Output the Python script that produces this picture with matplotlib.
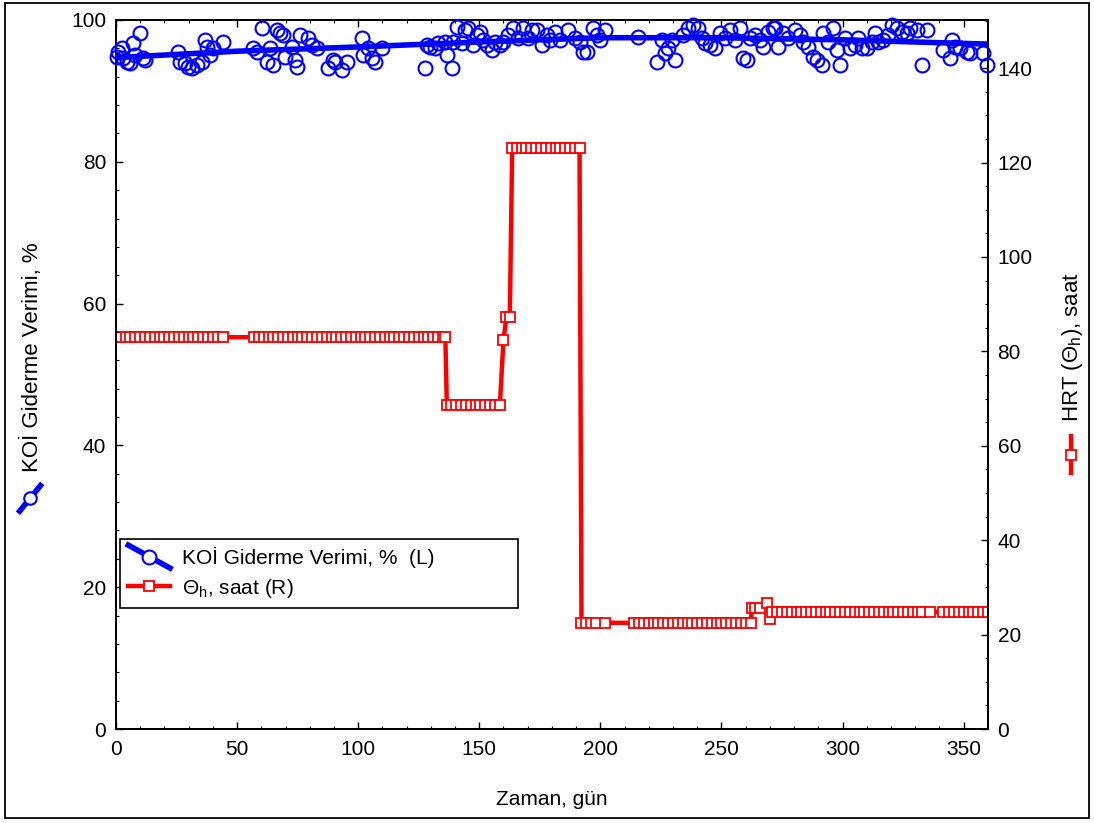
import matplotlib
matplotlib.use("Agg")
import matplotlib.pyplot as plt
from matplotlib.ticker import MultipleLocator
from matplotlib.lines import Line2D
from matplotlib.patches import Rectangle
from matplotlib.legend_handler import HandlerBase

plt.rcParams['font.family'] = ['Liberation Sans', 'DejaVu Sans']

# --- COD removal efficiency (left axis, %) ---
koi_day = [0.5, 1.0, 2.5, 2.9, 4.5, 5.8, 7.0, 7.8, 9.9, 11.2, 12.0,
           25.6, 26.4, 28.5, 29.7, 31.3, 33.4, 35.5, 36.7, 37.5, 38.8, 40.0, 44.2,
           56.6, 58.2, 60.3, 62.3, 63.6, 64.8, 66.5, 67.7, 69.0, 69.8, 72.7, 73.9,
           74.7, 76.0, 79.3, 80.9, 83.0, 87.5, 89.6,
           90.4, 93.3, 95.4, 101.6, 102.0, 104.0, 105.7, 106.9, 109.8,
           127.6, 128.4, 129.6, 131.7, 132.9, 135.8, 136.7, 138.7, 139.1, 140.8,
           142.9, 144.1, 145.3, 147.4, 149.0, 150.3, 151.5, 153.2, 155.2, 156.5,
           158.5, 159.8, 161.9, 163.9, 166.0, 168.0, 170.1, 171.8, 173.8, 175.9,
           178.0, 179.2,
           181.3, 183.3, 186.6, 189.5, 191.6, 192.8, 194.5, 197.0, 198.6, 199.8,
           201.9, 215.5, 223.4, 225.4, 226.7, 227.9, 229.6, 230.8, 234.1, 236.2,
           238.2, 240.3, 242.0, 243.2, 245.3, 247.3, 249.4, 251.4, 253.5, 255.6,
           257.6, 258.9, 260.5, 261.8, 263.8, 265.9, 267.1, 269.2, 271.3,
           272.1, 273.3, 275.4, 277.5, 280.3, 282.4, 283.6, 285.7, 287.8, 289.4,
           291.5, 291.9, 294.0, 296.0, 297.7, 298.9, 301.0, 303.1, 305.1, 306.4,
           308.0, 310.1, 312.1, 313.4, 314.6, 316.7, 318.8, 320.4, 322.5, 324.5,
           326.6, 327.8, 330.7, 332.8, 334.8, 341.5, 344.3, 345.2, 346.4, 348.5,
           351.4, 352.6, 358.0, 359.6]
koi_val = [94.8, 95.5, 96.0, 94.6, 94.1, 93.9, 96.8, 95.1, 98.2, 94.6, 94.4,
           95.5, 94.1, 93.9, 93.4, 93.2, 93.7, 94.1, 97.2, 96.2, 95.1, 96.0, 96.9,
           96.0, 95.5, 98.9, 94.1, 96.0, 93.7, 98.6, 98.2, 97.9, 94.8, 96.2, 94.4,
           93.4, 97.9, 97.5, 96.5, 96.0, 93.2, 94.4,
           94.1, 92.9, 94.1, 97.5, 95.1, 96.0, 94.6, 94.1, 96.0,
           93.2, 96.5, 96.2, 96.0, 96.8, 96.9, 95.1, 93.2, 96.9, 99.0,
           96.8, 98.6, 98.9, 96.5, 97.9, 98.3, 97.2, 96.5, 95.8, 96.9,
           96.5, 96.9, 97.9, 98.9, 97.5, 98.9, 97.5, 98.6, 98.6, 96.5,
           97.9, 97.2,
           98.3, 97.2, 98.6, 97.5, 96.9, 95.5, 95.5, 98.9, 97.9, 97.2,
           98.6, 97.6, 94.1, 97.2, 95.3, 96.0, 97.2, 94.4, 97.9, 98.9,
           99.3, 98.9, 97.5, 96.8, 96.5, 96.0, 98.2, 97.5, 98.6, 97.2,
           98.9, 94.6, 94.4, 97.5, 97.9, 97.2, 96.2, 98.3, 98.9,
           98.9, 96.2, 98.2, 97.5, 98.6, 97.9, 96.9, 96.2, 94.8, 94.4,
           93.7, 98.2, 96.9, 98.9, 95.8, 93.7, 97.5, 96.0, 96.5, 97.5,
           96.0, 96.0, 96.9, 98.2, 96.9, 97.2, 97.9, 99.3, 98.9, 98.3,
           98.2, 98.9, 98.6, 93.7, 98.6, 95.8, 94.6, 97.2, 96.2, 96.0,
           95.5, 95.3, 95.3, 93.7]

# fitted trend of COD removal
fit_day = [0, 50, 100, 150, 200, 250, 300, 360]
fit_val = [94.7, 95.6, 96.2, 96.9, 97.5, 97.5, 97.2, 96.6]

# --- Hydraulic retention time (right axis, hours) ---
hrt_day = [0, 2, 4, 6, 8, 10, 12, 14, 16, 18, 20, 22, 24, 26, 28, 30, 32, 34, 36,
           38, 40, 42, 44,
           57, 59, 61, 63, 65, 67, 69, 71, 73, 75, 77, 79, 81, 83, 85, 87, 89, 91,
           93, 95, 97, 99, 101, 103, 105, 107, 109, 111, 113, 115, 117, 119, 121,
           123, 125, 127, 129, 131, 133, 135, 136,
           136.6, 138.5, 140.5, 142.5, 144.5, 146.5, 148.5, 150.5, 152.5, 154.5,
           156.5, 158.5,
           160, 161.2, 162.6,
           163.6, 165.5, 167.5, 169.5, 171.5, 173.5, 175.5, 177.5, 179.5, 181.5,
           183.5, 185.5, 187.5, 189.5, 191.4,
           192.2, 194, 196, 198, 202,
           214, 216, 218, 220, 222, 224, 226, 228, 230, 232, 234, 236, 238, 240,
           242, 244, 246, 248, 250, 252, 254, 256, 258, 260, 262,
           262.6, 264, 265.8, 268.8, 270.2,
           271, 273, 275, 277, 279, 281, 283, 285, 287, 289, 291, 293, 295, 297,
           299, 301, 303, 305, 307, 309, 311, 313, 315, 317, 319, 321, 323, 325,
           327, 329, 331, 333, 336,
           341.5, 344, 346, 348, 350, 352, 354, 356, 358, 360]
hrt_val = [83.0] * 23 + [83.0] * 41 + [68.6] * 12 + [82.4, 87.3, 87.3] + \
          [123.0] * 15 + [22.5] * 5 + [22.5] * 25 + \
          [25.6, 25.6, 25.6, 26.7, 23.3] + [24.8] * 33 + [24.8] * 10

x_ticks = [0, 50, 100, 150, 200, 250, 300, 350]
left_ticks = [0, 20, 40, 60, 80, 100]
right_ticks = [0, 20, 40, 60, 80, 100, 120, 140]

blue = '#0000FF'
red = '#FF0000'
FS = 15

fig = plt.figure(figsize=(10.94, 8.23), dpi=100)
ax = fig.add_axes([0.106, 0.1142, 0.797, 0.8615])
ax2 = ax.twinx()

# red HRT series on right axis (drawn behind)
ax2.plot(hrt_day, hrt_val, color=red, lw=3.2, marker='s', ms=7.8,
         mfc='white', mec=red, mew=1.3, zorder=2)

ax.set_zorder(ax2.get_zorder() + 1)
ax.patch.set_visible(False)

ax.plot(koi_day, koi_val, ls='none', marker='o', ms=10, mfc='none',
        mec=blue, mew=1.5, zorder=3, clip_on=False)
ax.plot(fit_day, fit_val, color=blue, lw=4, zorder=4, solid_capstyle='butt')

ax.set_xlim(0, 360)
ax.set_ylim(0, 100)
ax2.set_ylim(0, 150.2)

ax.set_xticks(x_ticks)
ax.set_yticks(left_ticks)
ax2.set_yticks(right_ticks)
ax.xaxis.set_minor_locator(MultipleLocator(10))
ax.yaxis.set_minor_locator(MultipleLocator(4))
ax2.yaxis.set_minor_locator(MultipleLocator(5))

ax.tick_params(axis='x', which='both', direction='in', top=True, bottom=True,
               labelsize=FS, pad=8)
ax.tick_params(axis='y', which='both', direction='in', labelsize=FS, pad=7)
ax2.tick_params(axis='y', which='both', direction='in', labelsize=FS, pad=7)
for a, axis in ((ax, 'both'), (ax2, 'y')):
    a.tick_params(axis=axis, which='major', length=5, width=1)
    a.tick_params(axis=axis, which='minor', length=2.5, width=0.8)

for a in (ax, ax2):
    for s in a.spines.values():
        s.set_linewidth(1.3)

ax.set_xlabel('Zaman, gün', fontsize=FS, labelpad=22)

# Left axis title with symbol
fig.text(0.029, 0.5656, 'KOİ Giderme Verimi, %', rotation=90, fontsize=16,
         ha='center', va='center')
fig.add_artist(Line2D([0.018, 0.037], [0.379, 0.410], transform=fig.transFigure,
                      color=blue, lw=4))
fig.add_artist(Line2D([0.0275], [0.3945], transform=fig.transFigure,
                      marker='o', ms=9, mfc='white', mec=blue, mew=1.5, ls='none'))

# Right axis title with symbol
fig.text(0.980, 0.578, 'HRT (Θ$_\\mathregular{h}$), saat', rotation=90, fontsize=16,
         ha='center', va='center')
fig.add_artist(Line2D([0.979, 0.979], [0.425, 0.470], transform=fig.transFigure,
                      color=red, lw=3.2))
fig.add_artist(Line2D([0.979], [0.4475], transform=fig.transFigure,
                      marker='s', ms=7.8, mfc='white', mec=red, mew=1.3, ls='none'))


class DiagHandler(HandlerBase):
    def create_artists(self, legend, orig_handle, xdescent, ydescent, width,
                       height, fontsize, trans):
        x0, x1 = -xdescent, width - xdescent
        y0, y1 = -ydescent - 3, height - ydescent + 3
        ln = Line2D([x0, x1], [y1, y0], color=blue, lw=4, transform=trans)
        mk = Line2D([(x0 + x1) / 2], [(y0 + y1) / 2], marker='o', ms=10,
                    mfc='white', mec=blue, mew=1.5, ls='none', transform=trans)
        return [ln, mk]


# Legend
h1 = Line2D([], [], color=blue)
h2 = Line2D([], [], color=red, lw=3.2, marker='s', ms=7.8, mfc='white', mec=red, mew=1.3)
leg = ax.legend([h1, h2], ['KOİ Giderme Verimi, %  (L)', 'Θ$_\\mathregular{h}$, saat (R)'],
                loc='lower left', bbox_to_anchor=(0.0046, 0.1707, 0.4565, 0.096),
                mode='expand', fontsize=FS, handler_map={h1: DiagHandler()},
                frameon=True, fancybox=False, edgecolor='black', framealpha=1,
                handlelength=2.0, handletextpad=0.6, borderpad=0.4,
                labelspacing=0.42, borderaxespad=0)
leg.get_frame().set_linewidth(1.2)
leg.set_zorder(10)

# Outer frame
fig.add_artist(Rectangle((0.005, 0.006), 0.99, 0.99, transform=fig.transFigure,
                         fill=False, edgecolor='black', lw=1.3))

fig.savefig('out.png', dpi=100)
